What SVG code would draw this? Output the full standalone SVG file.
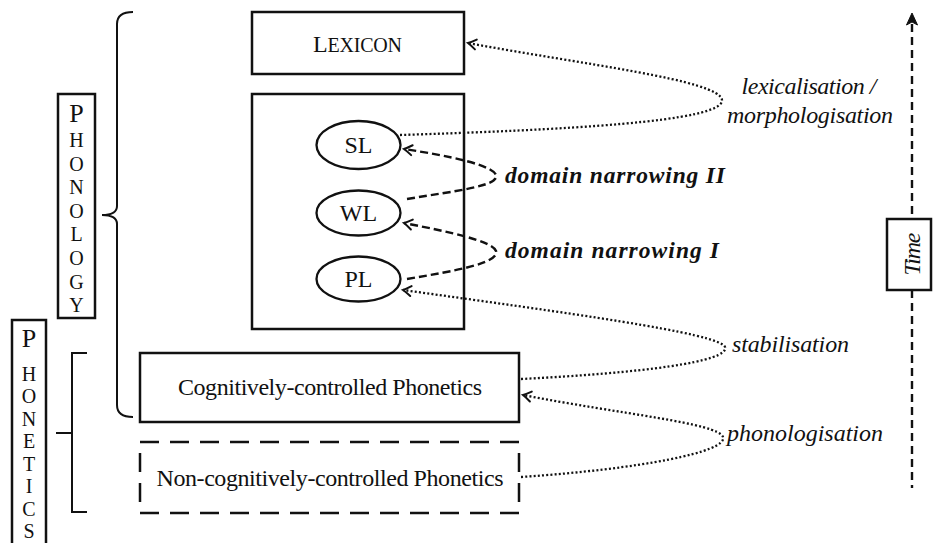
<svg xmlns="http://www.w3.org/2000/svg" width="933" height="543" viewBox="0 0 933 543">
<style>
  text { font-family: "Liberation Serif", "DejaVu Serif", serif; fill: #111; }
  .box { fill: #fff; stroke: #111; stroke-width: 2.5; }
  .dbox { fill: #fff; stroke: #111; stroke-width: 2.5; stroke-dasharray: 19 11; }
  .ell { fill: #fff; stroke: #111; stroke-width: 2.3; }
  .line { fill: none; stroke: #111; stroke-width: 2; }
  .dot { fill: none; stroke: #111; stroke-width: 2.3; stroke-dasharray: 2 2.2; marker-end: url(#chev); }
  .dash { fill: none; stroke: #111; stroke-width: 2.4; stroke-dasharray: 8 4; }
  .tdash { fill: none; stroke: #111; stroke-width: 2.4; stroke-dasharray: 8 5; }
  .lbl { font-size: 24px; }
  .it { font-style: italic; font-size: 24px; }
  .bi { font-style: italic; font-weight: bold; font-size: 23.5px; }
  .big { font-size: 26px; }
  .sm { font-size: 20px; }
</style>
<defs>
  <marker id="chev" markerUnits="userSpaceOnUse" markerWidth="20" markerHeight="20" viewBox="-10 -10 20 20" refX="0" refY="0" orient="auto">
    <path d="M-8,-5 Q-3,-1.5 0,0 Q-3,1.5 -8,5" fill="none" stroke="#111" stroke-width="2" stroke-dasharray="none" stroke-linecap="round"/>
  </marker>
</defs>
<rect width="933" height="543" fill="#fff"/>

<g id="phonology-label">
  <rect class="box" x="58" y="94" width="37" height="224"/>
  <g text-anchor="middle">
    <text class="big" x="76.5" y="122">P</text>
    <text class="sm" x="76.5" y="147">H</text>
    <text class="sm" x="76.5" y="170.6">O</text>
    <text class="sm" x="76.5" y="194.2">N</text>
    <text class="sm" x="76.5" y="217.8">O</text>
    <text class="sm" x="76.5" y="241.4">L</text>
    <text class="sm" x="76.5" y="265">O</text>
    <text class="sm" x="76.5" y="288.6">G</text>
    <text class="sm" x="76.5" y="312">Y</text>
  </g>
</g>

<g id="phonetics-label">
  <rect class="box" x="12" y="320" width="34" height="235"/>
  <g text-anchor="middle">
    <text class="big" x="29" y="347">P</text>
    <text class="sm" x="29" y="381">H</text>
    <text class="sm" x="29" y="403.4">O</text>
    <text class="sm" x="29" y="425.9">N</text>
    <text class="sm" x="29" y="448.3">E</text>
    <text class="sm" x="29" y="470.7">T</text>
    <text class="sm" x="29" y="493.1">I</text>
    <text class="sm" x="29" y="515.6">C</text>
    <text class="sm" x="29" y="538">S</text>
  </g>
</g>

<g id="brackets">
  <path class="line" d="M133,12 Q117,12 117,24 L117,206 Q117,215 102,215 Q117,215 117,224 L117,405 Q117,417 133,417"/>
  <path class="line" d="M87,353 L72,353 L72,512 L87,512 M56,433 L72,433"/>
</g>

<g id="lexicon">
  <rect class="box" x="252" y="12" width="212" height="62"/>
  <text x="357.5" y="52" text-anchor="middle" textLength="89"><tspan class="lbl">L</tspan><tspan class="sm">EXICON</tspan></text>
</g>

<g id="phonology-box">
  <rect class="box" x="252" y="94" width="212" height="235"/>
</g>

<g id="sl">
  <ellipse class="ell" cx="358.5" cy="145" rx="42" ry="24"/>
  <text class="lbl" x="358.5" y="153" text-anchor="middle">SL</text>
</g>
<g id="wl">
  <ellipse class="ell" cx="358.5" cy="213" rx="42" ry="22.5"/>
  <text class="lbl" x="358.5" y="221" text-anchor="middle">WL</text>
</g>
<g id="pl">
  <ellipse class="ell" cx="358.5" cy="279" rx="42" ry="22.5"/>
  <text class="lbl" x="358.5" y="287" text-anchor="middle">PL</text>
</g>

<g id="cognitive">
  <rect class="box" x="140" y="353" width="379" height="69"/>
  <text class="lbl" x="330" y="395" text-anchor="middle" textLength="304">Cognitively-controlled Phonetics</text>
</g>

<g id="non-cognitive">
  <rect class="dbox" x="140" y="442" width="379" height="71"/>
  <text class="lbl" x="330" y="486" text-anchor="middle" textLength="347">Non-cognitively-controlled Phonetics</text>
</g>

<g id="connectors">
  <path class="dot" d="M400,135 C560,130 724,122 722,100 C720,80 580,64 468,43"/>
  <path class="dash" marker-end="url(#chev)" d="M407,199 C455,191 500,186 496,175 C492,165 450,156 404,149"/>
  <path class="dash" marker-end="url(#chev)" d="M407,279 C455,271 500,263 496,251 C492,241 450,232 404,223"/>
  <path class="dot" d="M521,379 C640,373 730,362 725,347 C720,333 560,312 403,290"/>
  <path class="dot" d="M521,477 C640,469 728,452 723,437 C718,423 620,414 523,395"/>
</g>

<g id="edge-labels">
  <text class="it" x="809" y="94" text-anchor="middle" textLength="135">lexicalisation /</text>
  <text class="it" x="810" y="123" text-anchor="middle" textLength="166">morphologisation</text>
  <text class="bi" x="505" y="183" textLength="220">domain narrowing II</text>
  <text class="bi" x="505" y="258" textLength="214">domain narrowing I</text>
  <text class="it" x="732" y="352" textLength="117">stabilisation</text>
  <text class="it" x="727" y="441" textLength="156">phonologisation</text>
</g>

<g id="time">
  <path class="tdash" d="M912,24 L912,219 M912,290 L912,488"/>
  <polygon points="912,13 906.5,25 912,22 917.5,25" fill="#111" stroke="#111" stroke-width="1" stroke-linejoin="round"/>
  <rect class="box" x="887" y="219" width="44" height="71"/>
  <text class="it" transform="translate(920,254) rotate(-90)" text-anchor="middle" textLength="43">Time</text>
</g>
</svg>
